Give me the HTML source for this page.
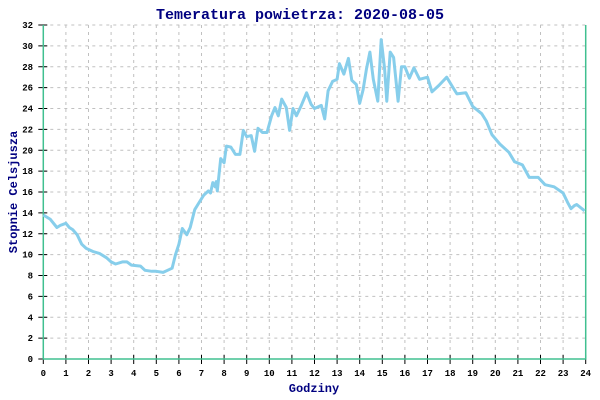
<!DOCTYPE html>
<html><head><meta charset="utf-8"><style>
html,body{margin:0;padding:0;background:#fff;}
svg{display:block;font-family:"Liberation Mono",monospace;}
</style></head><body>
<svg id="chart" width="600" height="400" viewBox="0 0 600 400" xmlns="http://www.w3.org/2000/svg">
<rect width="600" height="400" fill="#fff"/>
<text x="300" y="19" text-anchor="middle" font-size="15" font-weight="bold" fill="#000080">Temeratura powietrza: 2020-08-05</text>
<text x="0" y="0" transform="translate(17,192) rotate(-90)" text-anchor="middle" font-size="12" font-weight="bold" fill="#000080">Stopnie Celsjusza</text>
<text x="314" y="392" text-anchor="middle" font-size="12" font-weight="bold" fill="#000080">Godziny</text>
<g id="grid"></g><g id="axes"></g><g id="series"></g>
</svg>
<script>
const hours=[0,0.3,0.6,0.75,1.0,1.15,1.3,1.5,1.7,1.9,2.2,2.5,2.8,3.0,3.2,3.5,3.7,3.9,4.3,4.5,4.8,5.0,5.3,5.5,5.7,5.85,6.0,6.15,6.35,6.5,6.7,6.9,7.1,7.3,7.4,7.5,7.6,7.65,7.7,7.85,8.0,8.1,8.3,8.5,8.7,8.85,9.0,9.2,9.35,9.5,9.7,9.9,10.1,10.25,10.4,10.55,10.75,10.9,11.05,11.2,11.4,11.65,11.85,12.0,12.3,12.45,12.6,12.8,13.0,13.1,13.3,13.5,13.65,13.85,14.0,14.15,14.3,14.45,14.6,14.8,14.95,15.1,15.2,15.35,15.5,15.7,15.85,16.0,16.2,16.4,16.65,17.0,17.2,17.5,17.85,18.1,18.3,18.7,19.0,19.4,19.6,19.85,20.2,20.6,20.85,21.2,21.5,21.9,22.2,22.6,23.0,23.2,23.35,23.5,23.6,23.95];
const temps=[13.8,13.4,12.6,12.8,13.0,12.6,12.4,11.9,11.0,10.6,10.3,10.1,9.7,9.3,9.1,9.3,9.3,9.0,8.9,8.5,8.4,8.4,8.3,8.5,8.7,10.0,11.0,12.5,11.9,12.6,14.3,15.0,15.7,16.1,15.9,16.9,16.5,17.0,16.1,19.2,18.8,20.4,20.3,19.6,19.6,21.9,21.3,21.4,19.9,22.1,21.7,21.7,23.3,24.1,23.3,24.9,24.1,21.9,24.0,23.3,24.2,25.5,24.4,24.0,24.3,23.0,25.7,26.6,26.8,28.3,27.3,28.8,26.7,26.3,24.5,25.8,27.8,29.4,26.8,24.7,30.6,27.8,24.7,29.4,28.9,24.7,28.0,28.0,26.9,27.9,26.8,27.0,25.6,26.2,27.0,26.1,25.4,25.5,24.2,23.5,22.8,21.5,20.6,19.8,18.9,18.6,17.4,17.4,16.7,16.5,15.9,15.0,14.4,14.7,14.8,14.2];
const xTicks=[0,1,2,3,4,5,6,7,8,9,10,11,12,13,14,15,16,17,18,19,20,21,22,23,24];
const yTicks=[0,2,4,6,8,10,12,14,16,18,20,22,24,26,28,30,32];
const NS="http://www.w3.org/2000/svg";
const X0=43.3,X1=585.7,Y0=359,Y1=25;
function xs(h){return X0+(X1-X0)*h/24;}
function ys(v){return Y0-(Y0-Y1)*v/32;}
function mk(tag,attrs,parent){const e=document.createElementNS(NS,tag);for(const k in attrs)e.setAttribute(k,attrs[k]);parent.appendChild(e);return e;}
const grid=document.getElementById('grid'),axes=document.getElementById('axes'),series=document.getElementById('series');
xTicks.forEach(t=>{
  const x=xs(t);
  if(t>0&&t<24){const g=mk('line',{x1:x,x2:x,y1:Y1,y2:Y0,stroke:'#c0c0c0','stroke-dasharray':'3,4'},grid);
  
  }
  const tk=mk('line',{x1:x,x2:x,y1:Y0-4,y2:Y0+5,stroke:'#000'},axes);
  
  
  const lb=mk('text',{x:x,y:376,'text-anchor':'middle','font-size':'9','font-weight':'bold',fill:'#000'},axes);
  lb.textContent=t;
  
  
});
yTicks.forEach(t=>{
  const y=ys(t);
  if(t>0){const g=mk('line',{x1:X0,x2:X1,y1:y,y2:y,stroke:'#c0c0c0','stroke-dasharray':'3,4'},grid);
  
  }
  const tk=mk('line',{x1:X0-5,x2:X0+4,y1:y,y2:y,stroke:'#000'},axes);
  
  
  const lb=mk('text',{x:33,y:y+3,'text-anchor':'end','font-size':'9','font-weight':'bold',fill:'#000'},axes);
  lb.textContent=t;
  
  
});
const ax=mk('path',{d:`M${X0},${Y1}V${Y0}H${X1}V${Y1}`,fill:'none',stroke:'#40c090','stroke-width':'1.5'},axes);


const pts=hours.map((h,i)=>xs(h).toFixed(1)+','+ys(temps[i]).toFixed(1)).join(' ');
const pl=mk('polyline',{points:pts,fill:'none',stroke:'#87ceeb','stroke-width':'3','stroke-linejoin':'round'},series);


</script>
</body></html>
